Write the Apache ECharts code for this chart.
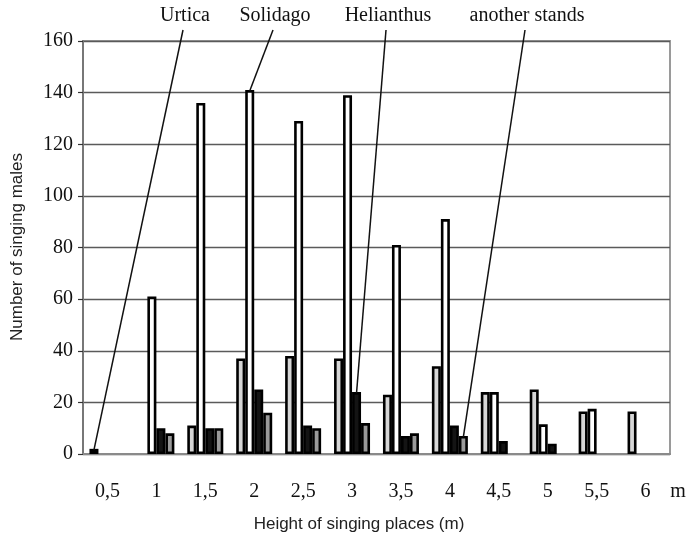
<!DOCTYPE html>
<html>
<head>
<meta charset="utf-8">
<script src="https://cdn.jsdelivr.net/npm/echarts@6/dist/echarts.min.js"></script>
<style>html,body{margin:0;padding:0;background:#fff}#c{width:687px;height:541px}</style>
</head>
<body>
<div id="c"></div>
<script>
var categories = ['0,5','1','1,5','2','2,5','3','3,5','4','4,5','5','5,5','6'];
var seriesNames = ['Urtica','Solidago','Helianthus','another stands'];
var urtica     = [2, null, 11, 37, 38, 37, 23, 34, 24, 25, 16.5, 16.5];
var solidago   = [null, 61, 136, 141, 129, 139, 81, 91, 24, 11.5, 17.5, null];
var helianthus = [null, 10, 10, 25, 11, 24, 7, 11, 5, 4, null, null];
var another    = [null, 8, 10, 16, 10, 12, 8, 7, null, null, null, null];
var yTicks = [0, 20, 40, 60, 80, 100, 120, 140, 160];
// which bar each top label points to
var annotCategoryIndex = [0, 3, 5, 7];

var seriesData = [urtica, solidago, helianthus, another];
var colors = ['#d6d6d6', '#ffffff', '#141414', '#9a9a9a'];
var BW = 9;

var chart = echarts.init(document.getElementById('c'), null, {renderer: 'canvas'});
var serif = '"Liberation Serif", "Times New Roman", serif';
var sans = '"Liberation Sans", Arial, sans-serif';

var option = {
  animation: false,
  backgroundColor: '#fff',
  grid: {left: 83, right: 17, top: 41, bottom: 87, show: true, borderColor: '#9a9a9a', borderWidth: 2, backgroundColor: 'transparent'},
  xAxis: {
    type: 'category',
    data: categories,
    axisLine: {show: true, lineStyle: {color: '#8a8a8a', width: 2}},
    axisTick: {show: false},
    axisLabel: {color: '#111', fontFamily: serif, fontSize: 20, margin: 28},
    splitLine: {show: false}
  },
  yAxis: {
    type: 'value',
    min: yTicks[0], max: yTicks[yTicks.length - 1], interval: 20,
    axisLine: {show: true, lineStyle: {color: '#777', width: 2}},
    axisTick: {show: true, inside: false, length: 5, lineStyle: {color: '#333', width: 1.2}},
    axisLabel: {color: '#111', fontFamily: serif, fontSize: 20, margin: 10},
    splitLine: {show: true, lineStyle: {color: '#5a5a5a', width: 1.4}}
  },
  series: seriesData.map(function (d, i) {
    return {
      name: seriesNames[i],
      type: 'bar',
      data: d,
      barWidth: BW,
      barGap: '0%',
      itemStyle: {color: colors[i], borderColor: '#000', borderWidth: 2.6},
      emphasis: {disabled: true}
    };
  })
};
chart.setOption(option);

// leader labels and lines, anchored to bar layouts
var labelCenters = [185, 275, 388, 527];
var graphics = [];
for (var i = 0; i < seriesNames.length; i++) {
  var ci = annotCategoryIndex[i];
  var val = seriesData[i][ci];
  var px;
  try {
    var lay = chart.getModel().getSeriesByIndex(i).getData().getItemLayout(ci);
    px = [lay.x + lay.width / 2, Math.min(lay.y, lay.y + lay.height)];
  } catch (e) {
    var p = chart.convertToPixel({xAxisIndex: 0, yAxisIndex: 0}, [ci, val]);
    px = [p[0] + (i - 1.5) * BW, p[1]];
  }
  graphics.push({
    type: 'text', x: labelCenters[i], y: 16,
    style: {text: seriesNames[i], font: '20px ' + serif, fill: '#111', textAlign: 'center', textVerticalAlign: 'middle'}
  });
  graphics.push({
    type: 'line', z: 100,
    shape: {x1: labelCenters[i] - 2, y1: 30, x2: px[0], y2: px[1] + 1},
    style: {stroke: '#111', lineWidth: 1.5}
  });
}
graphics.push({
  type: 'text', x: 678, y: 492,
  style: {text: 'm', font: '20px ' + serif, fill: '#111', textAlign: 'center', textVerticalAlign: 'middle'}
});
graphics.push({
  type: 'text', x: 359, y: 524,
  style: {text: 'Height of singing places (m)', font: '17px ' + sans, fill: '#222', textAlign: 'center', textVerticalAlign: 'middle'}
});
graphics.push({
  type: 'text', x: 17, y: 247, rotation: Math.PI / 2,
  style: {text: 'Number of singing males', font: '17px ' + sans, fill: '#222', textAlign: 'center', textVerticalAlign: 'middle'}
});
chart.setOption({graphic: graphics});
</script>
</body>
</html>
